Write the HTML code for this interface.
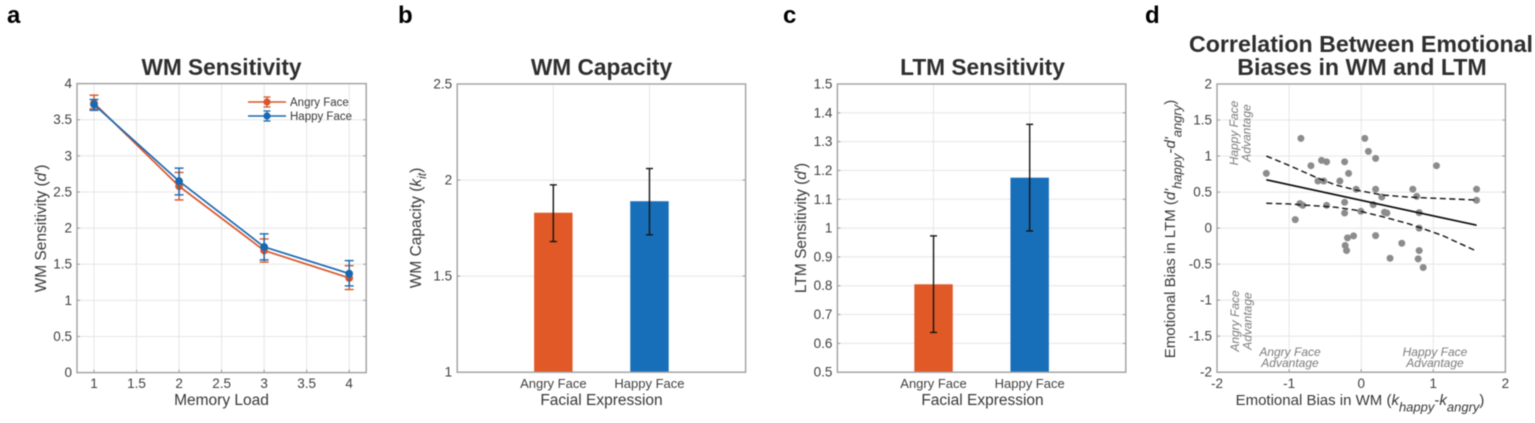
<!DOCTYPE html>
<html lang="en">
<head>
<meta charset="utf-8">
<title>Emotional bias in WM and LTM</title>
<style>
html,body{margin:0;padding:0;background:#fff;width:1535px;height:423px;overflow:hidden}
svg{display:block;filter:blur(0.4px)}
text{font-family:"Liberation Sans",Arial,sans-serif;fill:#383838}
.title{font-weight:bold;font-size:22.7px;text-anchor:middle;fill:#2e2e2e}
.title-wide{font-size:23.2px}
.letter{font-weight:bold;font-size:24px;fill:#000}
.tick{font-size:13.5px;fill:#404040}
.cat{font-size:13px}
.label{font-size:15.5px;text-anchor:middle}
.label-d{font-size:15px}
.note{font-size:12px;font-style:italic;fill:#7c7c7c;text-anchor:middle}
</style>
</head>
<body>
<svg id="fig" xmlns="http://www.w3.org/2000/svg" width="1535" height="423" viewBox="0 0 1535 423">
  <rect width="1535" height="423" fill="#fff"/>
  <g id="marks"></g>

  <text class="letter" x="7" y="23">a</text>
  <text class="letter" x="398" y="23">b</text>
  <text class="letter" x="783" y="23">c</text>
  <text class="letter" x="1145" y="23">d</text>

  <text class="title" x="221.5" y="75">WM Sensitivity</text>
  <text class="title" x="601.5" y="75">WM Capacity</text>
  <text class="title" x="982.5" y="75">LTM Sensitivity</text>
  <text class="title title-wide" x="1361" y="52">Correlation Between Emotional</text>
  <text class="title title-wide" x="1362" y="75">Biases in WM and LTM</text>

  <text class="label" x="221.5" y="405">Memory Load</text>
  <text class="label" x="601.5" y="405">Facial Expression</text>
  <text class="label" x="982.5" y="405">Facial Expression</text>
  <text class="label label-d" x="1360" y="405">Emotional Bias in WM (<tspan font-style="italic">k</tspan><tspan font-style="italic" font-size="13" dy="6.5">happy</tspan><tspan dy="-6.5">-</tspan><tspan font-style="italic">k</tspan><tspan font-style="italic" font-size="13" dy="6.5">angry</tspan><tspan dy="-6.5">)</tspan></text>

  <text class="label" transform="translate(46,228.5) rotate(-90)">WM Sensitivity (<tspan font-style="italic">d'</tspan>)</text>
  <text class="label" transform="translate(421,228) rotate(-90)">WM Capacity (<tspan font-style="italic">k</tspan><tspan font-style="italic" font-size="12" dy="5">it</tspan><tspan dy="-5">)</tspan></text>
  <text class="label" transform="translate(806,228) rotate(-90)">LTM Sensitivity (<tspan font-style="italic">d'</tspan>)</text>
  <text class="label label-d" transform="translate(1175,229) rotate(-90)">Emotional Bias in LTM (<tspan font-style="italic">d'</tspan><tspan font-style="italic" font-size="13" dy="6.5">happy</tspan><tspan dy="-6.5">-</tspan><tspan font-style="italic">d'</tspan><tspan font-style="italic" font-size="13" dy="6.5">angry</tspan><tspan dy="-6.5">)</tspan></text>

  <text class="note" transform="translate(1238,133) rotate(-90)">Happy Face</text>
  <text class="note" transform="translate(1250.5,133) rotate(-90)">Advantage</text>
  <text class="note" transform="translate(1239,321) rotate(-90)">Angry Face</text>
  <text class="note" transform="translate(1251.5,321) rotate(-90)">Advantage</text>
  <text class="note" x="1290" y="356">Angry Face</text>
  <text class="note" x="1290" y="367">Advantage</text>
  <text class="note" x="1435" y="356">Happy Face</text>
  <text class="note" x="1435" y="367">Advantage</text>
</svg>

<script>
// ---- Panel a: WM sensitivity ----
const loads = [1, 2, 3, 4];
const wmAngry = [3.73, 2.58, 1.69, 1.31];
const wmAngryHigh = [3.84, 2.77, 1.85, 1.48];
const wmAngryLow = [3.65, 2.39, 1.53, 1.15];
const wmHappy = [3.71, 2.65, 1.74, 1.37];
const wmHappyHigh = [3.78, 2.83, 1.92, 1.55];
const wmHappyLow = [3.63, 2.46, 1.56, 1.20];
const aXTicks = [1, 1.5, 2, 2.5, 3, 3.5, 4];
const aYTicks = [0, 0.5, 1, 1.5, 2, 2.5, 3, 3.5, 4];

// ---- Panel b: WM capacity ----
const faceCategories = ['Angry Face', 'Happy Face'];
const capacityValues = [1.83, 1.89];
const capacityHigh = [1.975, 2.06];
const capacityLow = [1.68, 1.715];
const bYTicks = [1, 1.5, 2, 2.5];

// ---- Panel c: LTM sensitivity ----
const ltmValues = [0.805, 1.175];
const ltmHigh = [0.973, 1.36];
const ltmLow = [0.638, 0.99];
const cYTicks = [0.5, 0.6, 0.7, 0.8, 0.9, 1, 1.1, 1.2, 1.3, 1.4, 1.5];

// ---- Panel d: correlation ----
const biasWM = [-1.316,-0.836,-0.697,-0.55,-0.48,-0.6,-0.52,-0.296,-0.23,-0.175,-0.07,0.05,0.1,0.2,1.044,0.2,0.286,0.716,0.77,1.6,1.6,-0.85,-0.81,-0.48,-0.23,-0.23,0.166,-0.005,0.323,0.356,0.804,0.804,-0.915,-0.106,-0.19,-0.222,-0.203,0.2,0.563,0.4,0.804,0.79,0.86];
const biasLTM = [0.76,1.245,0.866,0.94,0.92,0.654,0.654,0.654,0.92,0.76,0.54,1.245,1.065,0.968,0.866,0.54,0.432,0.54,0.44,0.54,0.386,0.34,0.316,0.316,0.358,0.21,0.326,0.233,0.22,0.21,0.215,0,0.118,-0.108,-0.136,-0.242,-0.312,-0.104,-0.21,-0.418,-0.312,-0.427,-0.547];
const fitX = [-1.316, 1.6];
const fitY = [0.67, 0.04];
const ciX = [-1.316,-1,-0.64,-0.36,-0.08,0.29,0.66,1.12,1.6];
const ciUpper = [1.0,0.87,0.71,0.6,0.53,0.46,0.43,0.41,0.39];
const ciLower = [0.345,0.335,0.31,0.29,0.25,0.16,0.06,-0.1,-0.32];
const dTicks = [-2, -1, 0, 1, 2];
const dYTicks = [-2, -1.5, -1, -0.5, 0, 0.5, 1, 1.5, 2];

const RED = '#d9552a';
const BLUE = '#1768b3';
const marks = document.getElementById('marks');

function make(tag, attrs, parent) {
  const el = document.createElementNS('http://www.w3.org/2000/svg', tag);
  for (const k in attrs) el.setAttribute(k, attrs[k]);
  (parent || marks).appendChild(el);
  return el;
}

function scale(d0, d1, r0, r1) {
  return v => r0 + (v - d0) * (r1 - r0) / (d1 - d0);
}

function drawAxes(p, xTicks, yTicks, xLabels, id) {
  const xs = scale(p.xMin, p.xMax, p.left, p.right);
  const ys = scale(p.yMin, p.yMax, p.bottom, p.top);
  xTicks.forEach((t, i) => {
    const grid = make('line', {x1: xs(t), x2: xs(t), y1: p.top, y2: p.bottom, stroke: '#e6e6e6', 'stroke-width': 1});
    
    
    const tk = make('line', {x1: xs(t), x2: xs(t), y1: p.bottom, y2: p.bottom - 3, stroke: '#999', 'stroke-width': 1});
    
    
    const lb = make('text', {x: xs(t), y: 388, 'text-anchor': 'middle', class: xLabels ? 'tick cat' : 'tick'});
    lb.textContent = xLabels ? xLabels[i] : String(t);
    
    
  });
  yTicks.forEach(t => {
    const grid = make('line', {x1: p.left, x2: p.right, y1: ys(t), y2: ys(t), stroke: '#e6e6e6', 'stroke-width': 1});
    
    
    const tk = make('line', {x1: p.left, x2: p.left + 3, y1: ys(t), y2: ys(t), stroke: '#999', 'stroke-width': 1});
    
    
    const tk2 = make('line', {x1: p.right, x2: p.right - 3, y1: ys(t), y2: ys(t), stroke: '#999', 'stroke-width': 1});
    
    
    const lb = make('text', {x: p.left - 5, y: ys(t) + 4.5, 'text-anchor': 'end', class: 'tick'});
    lb.textContent = String(t);
    
    
  });
  return {xs, ys};
}

function drawFrame(p, id) {
  const f = make('rect', {x: p.left, y: p.top, width: p.right - p.left, height: p.bottom - p.top, fill: 'none', stroke: '#a0a0a0', 'stroke-width': 1.4});
  
  
}

function errorBar(x, hiY, loY, color, capHalf, name, width) {
  const g = make('g', {stroke: color, 'stroke-width': width, fill: 'none'});
  
  
  make('line', {x1: x, x2: x, y1: hiY, y2: loY}, g);
  make('line', {x1: x - capHalf, x2: x + capHalf, y1: hiY, y2: hiY}, g);
  make('line', {x1: x - capHalf, x2: x + capHalf, y1: loY, y2: loY}, g);
}

// Panel a
const pa = {left: 77, right: 366.2, top: 83.6, bottom: 372.6, xMin: 0.8, xMax: 4.2, yMin: 0, yMax: 4};
const aAx = drawAxes(pa, aXTicks, aYTicks, null, 'panel-a');
drawFrame(pa, 'panel-a');

function drawSeries(vals, hi, lo, color, id) {
  loads.forEach((l, i) => {
    errorBar(aAx.xs(l), aAx.ys(hi[i]), aAx.ys(lo[i]), color, 4.5, id + '-error-bar', 1.4);
  });
  const pts = loads.map((l, i) => aAx.xs(l) + ',' + aAx.ys(vals[i])).join(' ');
  const line = make('polyline', {points: pts, fill: 'none', stroke: color, 'stroke-width': 1.7});
  
  
  loads.forEach((l, i) => {
    const c = make('circle', {cx: aAx.xs(l), cy: aAx.ys(vals[i]), r: 3.9, fill: color});
    
    
  });
}
drawSeries(wmAngry, wmAngryHigh, wmAngryLow, RED, 'angry-face');
drawSeries(wmHappy, wmHappyHigh, wmHappyLow, BLUE, 'happy-face');

// Legend
[[102, RED, faceCategories[0]], [116, BLUE, faceCategories[1]]].forEach(row => {
  const [ly, color, label] = row;
  const g = make('g', {});
  
  
  make('line', {x1: 248, x2: 286, y1: ly, y2: ly, stroke: color, 'stroke-width': 1.6}, g);
  make('line', {x1: 267, x2: 267, y1: ly - 5, y2: ly + 5, stroke: color, 'stroke-width': 1.3}, g);
  make('line', {x1: 263.5, x2: 270.5, y1: ly - 5, y2: ly - 5, stroke: color, 'stroke-width': 1.3}, g);
  make('line', {x1: 263.5, x2: 270.5, y1: ly + 5, y2: ly + 5, stroke: color, 'stroke-width': 1.3}, g);
  make('circle', {cx: 267, cy: ly, r: 3.6, fill: color}, g);
  const t = make('text', {x: 290, y: ly + 4, 'font-size': 11.5}, g);
  t.textContent = label;
});

// Bars
function drawBars(p, values, hi, lo, yTicks, id) {
  const ax = drawAxes(p, [1, 2], yTicks, faceCategories, id);
  values.forEach((v, i) => {
    const cx = ax.xs(i + 1);
    const w = ax.xs(0.4) - ax.xs(0);
    const b = make('rect', {x: cx - w / 2, y: ax.ys(v), width: w, height: p.bottom - ax.ys(v), fill: i === 0 ? '#e05926' : '#186fb9'});
    
    
  });
  drawFrame(p, id);
  values.forEach((v, i) => {
    errorBar(ax.xs(i + 1), ax.ys(hi[i]), ax.ys(lo[i]), '#141414', 3.5, id + '-error-bar', 1.4);
  });
}
drawBars({left: 457.2, right: 745.6, top: 84, bottom: 372.2, xMin: 0, xMax: 3, yMin: 1, yMax: 2.5}, capacityValues, capacityHigh, capacityLow, bYTicks, 'panel-b');
drawBars({left: 837.4, right: 1125.8, top: 84, bottom: 372.2, xMin: 0, xMax: 3, yMin: 0.5, yMax: 1.5}, ltmValues, ltmHigh, ltmLow, cYTicks, 'panel-c');

// Panel d
const pd = {left: 1217, right: 1505.4, top: 84, bottom: 372.2, xMin: -2, xMax: 2, yMin: -2, yMax: 2};
const dAx = drawAxes(pd, dTicks, dYTicks, null, 'panel-d');
drawFrame(pd, 'panel-d');
biasWM.forEach((x, i) => {
  const c = make('circle', {cx: dAx.xs(x), cy: dAx.ys(biasLTM[i]), r: 3.5, fill: '#8c8c8c'});
  
  
});
const fit = make('line', {x1: dAx.xs(fitX[0]), y1: dAx.ys(fitY[0]), x2: dAx.xs(fitX[1]), y2: dAx.ys(fitY[1]), stroke: '#0c0c0c', 'stroke-width': 1.7});


const upperBand = make('polyline', {points: ciX.map((x, i) => dAx.xs(x) + ',' + dAx.ys(ciUpper[i])).join(' '), fill: 'none', stroke: '#141414', 'stroke-width': 1.4, 'stroke-dasharray': '6 3.5'});


const lowerBand = make('polyline', {points: ciX.map((x, i) => dAx.xs(x) + ',' + dAx.ys(ciLower[i])).join(' '), fill: 'none', stroke: '#141414', 'stroke-width': 1.4, 'stroke-dasharray': '6 3.5'});


</script>
</body>
</html>
